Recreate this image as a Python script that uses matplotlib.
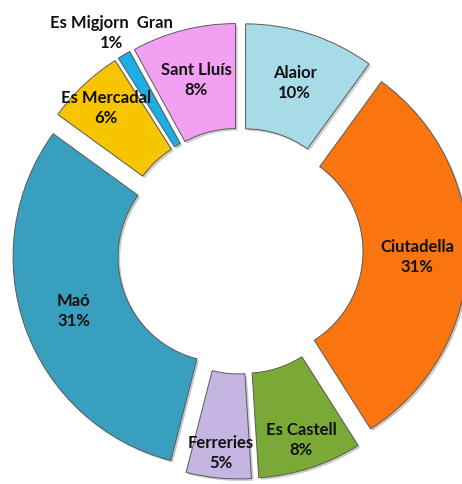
import matplotlib.pyplot as plt
import matplotlib.patheffects as pe
import numpy as np

names = ["Alaior", "Ciutadella", "Es Castell", "Ferreries", "Maó",
         "Es Mercadal", "Es Migjorn  Gran", "Sant Lluís"]
pcts = [10, 31, 8, 5, 31, 6, 1, 8]
colors = ["#a8dbe8", "#fa750f", "#7aaa35", "#c4b5e2", "#389fbe",
          "#f7c500", "#1eaee6", "#f2a0f2"]

# label distance from the centre, in pixels
label_r = [177, 177, 199, 203, 177, 196, 253, 177]

fig = plt.figure(figsize=(4.62, 4.84), dpi=100)
ax = fig.add_axes([0, 0, 1, 1])

cx, cy = 240, 484 - 251
wedges, _ = ax.pie(pcts, colors=colors, startangle=90, counterclock=False,
                   radius=210, center=(cx, cy), explode=[18] * len(pcts),
                   wedgeprops=dict(width=105, edgecolor="#5a5a5a", linewidth=0.7),
                   frame=True)
ax.set_xlim(0, 462)
ax.set_ylim(0, 484)
ax.set_aspect('equal')
ax.axis('off')

for w in wedges:
    w.set_path_effects([pe.SimplePatchShadow(offset=(1.5, -1.5), alpha=0.25),
                        pe.Normal()])

for w, name, p, r in zip(wedges, names, pcts, label_r):
    th = np.deg2rad((w.theta1 + w.theta2) / 2)
    ax.text(cx + r * np.cos(th), cy + r * np.sin(th), f"{name}\n{p}%",
            ha="center", va="center", fontsize=12, fontweight="bold",
            family="Lato", linespacing=1.3, color="#111111")

fig.savefig("out.png", dpi=100)
